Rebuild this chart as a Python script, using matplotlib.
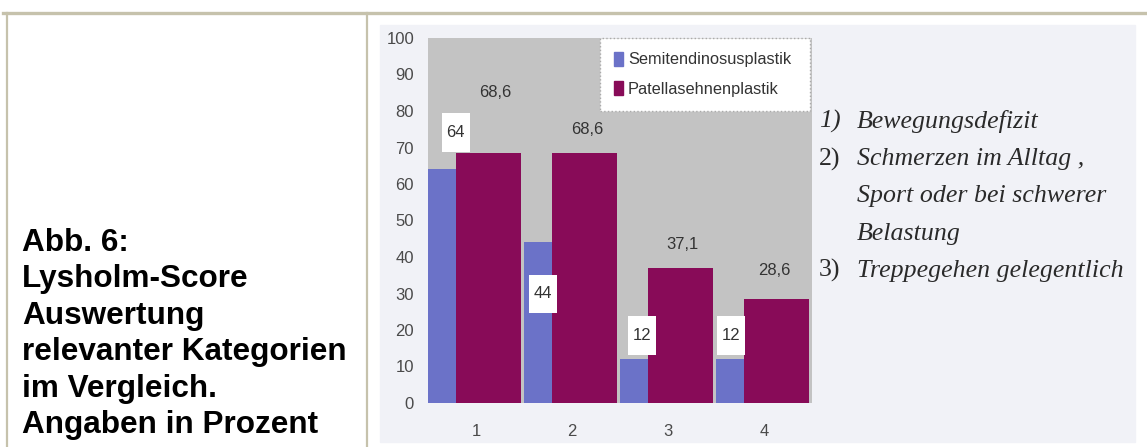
import matplotlib
matplotlib.use("Agg")
import matplotlib.pyplot as plt
import numpy as np
from matplotlib.patches import Rectangle
from matplotlib.lines import Line2D

# Lysholm-Score: share of patients per category (percent)
categories = ["1", "2", "3", "4"]
semitendinosus = [64, 44, 12, 12]
patellasehne = [68.6, 68.6, 37.1, 28.6]
series_names = ["Semitendinosusplastik", "Patellasehnenplastik"]

caption = ["Abb. 6:", "Lysholm-Score", "Auswertung", "relevanter Kategorien",
           "im Vergleich.", "Angaben in Prozent"]
note_numbers = ["1)", "2)", "", "", "3)"]
note_lines = ["Bewegungsdefizit", "Schmerzen im Alltag ,", "Sport oder bei schwerer",
              "Belastung", "Treppegehen gelegentlich"]

# hand-placed label offsets (x relative to category, y relative to value)
semi_lab_dx = [-0.21, -0.30, -0.27, -0.34]
semi_lab_dy = [10.2, -14.1, 6.4, 6.4]
pat_lab_dx = [0.20, 0.16, 0.15, 0.11]
pat_lab_dy = [16.6, 6.2, 6.2, 7.8]

BLUE = "#6b72c8"
PURPLE = "#880b58"
GRAY = "#c3c3c3"
BORDER = "#c6c2ac"

W, H = 1147, 447
fig = plt.figure(figsize=(W / 100, H / 100), dpi=100)
fig.patch.set_facecolor("white")


def fx(px):
    return px / W


def fy(py):
    return 1 - py / H


# table frame
fig.add_artist(Line2D([fx(3), 1], [fy(13), fy(13)], color=BORDER, lw=2.4))
fig.add_artist(Line2D([fx(7), fx(7)], [fy(13), 0], color=BORDER, lw=1.6))
fig.add_artist(Line2D([fx(367), fx(367)], [fy(13), 0], color=BORDER, lw=1.6))

# scanned figure background
fig.add_artist(Rectangle((fx(380), fy(442)), fx(1135 - 380), (442 - 25) / H,
                         transform=fig.transFigure, color="#f1f2f7", zorder=0))

# caption in the left cell
for i, line in enumerate(caption):
    fig.text(fx(22), fy(251 + i * 36.4), line, family="Liberation Sans",
             weight="bold", fontsize=22.7, color="black", va="baseline")

# notes to the right of the chart
for i, (num, line) in enumerate(zip(note_numbers, note_lines)):
    y = fy(128 + i * 37.2)
    if num:
        fig.text(fx(819), y, num, family="Liberation Serif",
                 style="italic" if i == 0 else "normal",
                 fontsize=18.6, color="#2a2a2a", va="baseline")
    fig.text(fx(857), y, line, family="Liberation Serif", style="italic",
             fontsize=18.6, color="#2a2a2a", va="baseline")

ax = fig.add_axes([fx(428), fy(403), fx(812 - 428), (403 - 38) / H])
ax.set_facecolor(GRAY)
x = np.arange(1, len(categories) + 1)
ax.bar(x - 0.5, semitendinosus, width=0.29, align="edge", color=BLUE, zorder=2)
ax.bar(x - 0.21, patellasehne, width=0.68, align="edge", color=PURPLE, zorder=3)

ax.set_xlim(0.5, 4.5)
ax.set_ylim(0, 100)
ax.set_yticks(range(0, 101, 10))
ax.set_xticks(x)
ax.set_xticklabels(categories)
for s in ax.spines.values():
    s.set_visible(False)
ax.tick_params(length=0, labelsize=12, labelcolor="#4a4a4a")
ax.tick_params(axis="y", pad=10)
ax.tick_params(axis="x", pad=15)
for lab in ax.get_xticklabels() + ax.get_yticklabels():
    lab.set_family("Liberation Sans")

# value labels: white boxes for the blue series, plain text for purple
for xi, v, dx, dy in zip(x, semitendinosus, semi_lab_dx, semi_lab_dy):
    cx, cy = xi + dx, v + dy
    ax.add_patch(Rectangle((cx - 0.145, cy - 5.3), 0.29, 10.6,
                           facecolor="white", edgecolor="none", zorder=4))
    ax.text(cx, cy, f"{v:g}", ha="center", va="center", fontsize=12,
            family="Liberation Sans", color="#333333", zorder=5)
for xi, v, dx, dy in zip(x, patellasehne, pat_lab_dx, pat_lab_dy):
    ax.text(xi + dx, v + dy, f"{v:g}".replace(".", ","), ha="center", va="center",
            fontsize=12, family="Liberation Sans", color="#333333", zorder=5)

handles = [Rectangle((0, 0), 1, 1, color=BLUE), Rectangle((0, 0), 1, 1, color=PURPLE)]
leg = ax.legend(handles, series_names, loc="upper left",
                bbox_to_anchor=(0.448, 0.816, 0.547, 0.184), mode="expand",
                frameon=True, fancybox=False, borderaxespad=0, borderpad=0.85,
                handlelength=0.55, handleheight=0.9, handletextpad=0.3,
                labelspacing=0.85, prop={"family": "Liberation Sans", "size": 11.8},
                labelcolor="#333333")
leg.get_frame().set_facecolor("white")
leg.get_frame().set_edgecolor("#aaaaaa")
leg.get_frame().set_linestyle(":")
leg.get_frame().set_alpha(1)
leg.set_zorder(6)

fig.savefig("out.png", dpi=100)
